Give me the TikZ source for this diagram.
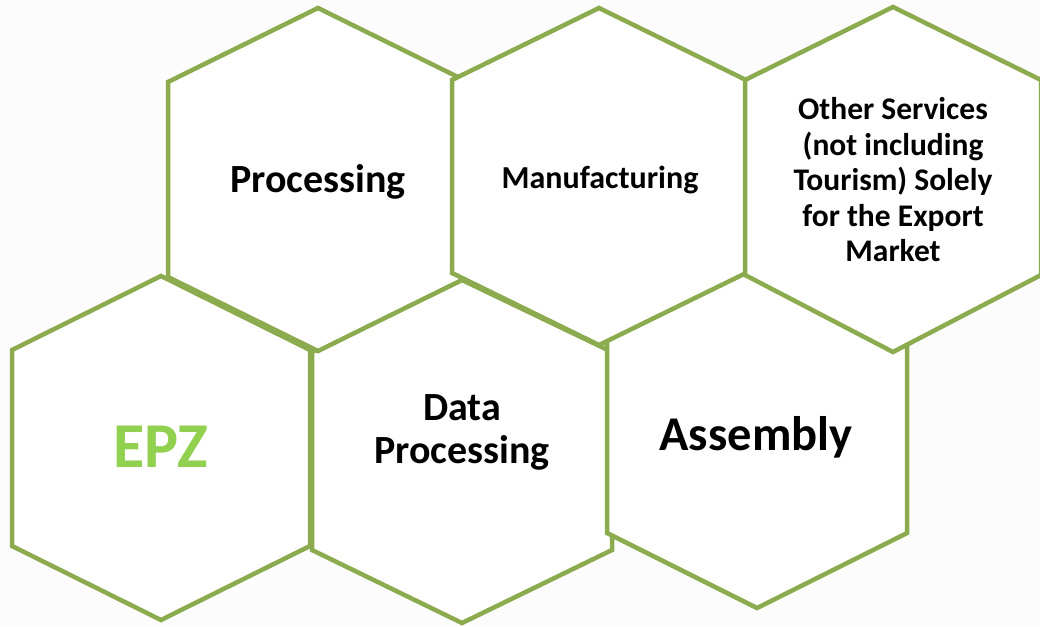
\documentclass[tikz,border=0pt]{standalone}
\usepackage{fontspec}
\usepackage{graphicx}
\setmainfont{Carlito}
\definecolor{hexgreen}{RGB}{140,171,79}
\definecolor{epzgreen}{RGB}{146,208,80}
\definecolor{bgray}{RGB}{252,252,252}
\tikzset{
  hexs/.style={draw=hexgreen, fill=white, line width=4.5pt, line join=miter},
  lbl/.style={font=\bfseries, text=black, align=center, inner sep=0pt},
}
\newcommand\hexa[6]{% cx, top, v1, v2, bottom, halfwidth
  \filldraw[hexs] (#1,#2) -- (#1+#6,#3) -- (#1+#6,#4) -- (#1,#5) -- (#1-#6,#4) -- (#1-#6,#3) -- cycle;}
\begin{document}
\begin{tikzpicture}[x=1pt,y=-1pt]
\useasboundingbox (0,0) rectangle (1040,626);
\fill[bgray] (0,0) rectangle (1040,626);
\clip (0,0) rectangle (1040,626);
% bottom row
\hexa{161}{276}{350}{546}{620}{149}
\hexa{462}{280}{352}{550}{623}{150}
\hexa{757}{266}{340}{533}{608}{150}
% top row
\hexa{318}{8}{82}{277}{351}{150}
\hexa{599}{8}{80}{273}{345}{147}
\hexa{893}{7}{80}{275}{352}{148}
% labels
\node[lbl, font=\fontsize{40}{43}\selectfont\bfseries] (proc) at (318,182) {Processing};
\node[lbl, font=\fontsize{32}{34}\selectfont\bfseries] (manu) at (600,180) {Manufacturing};
\node[lbl, font=\fontsize{31.5}{35.5}\selectfont\bfseries] (oth) at (893,180) {Other Services\\(not including\\Tourism) Solely\\for the Export\\Market};
\node[lbl, font=\fontsize{64}{64}\selectfont\bfseries, text=epzgreen] (epz) at (161,447) {EPZ};
\node[lbl, font=\fontsize{40}{43}\selectfont\bfseries] (data) at (462,432.5) {Data\\Processing};
\node[lbl, font=\fontsize{48.5}{48.5}\selectfont\bfseries] (asm) at (756,437) {Assembly};
\end{tikzpicture}
\end{document}
